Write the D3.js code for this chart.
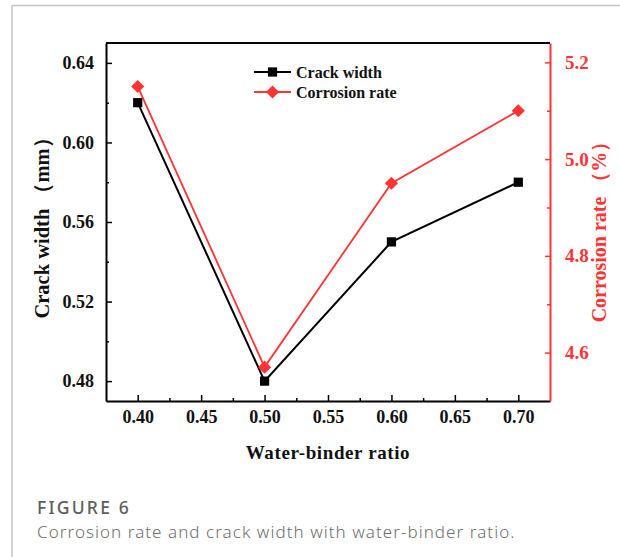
<!DOCTYPE html>
<html>
  <head>
    <script type="text/javascript" src="https://cdn.jsdelivr.net/npm/d3@7/dist/d3.min.js"></script>
    <style>
      body { margin: 0; background: #fff; }
      .tick text { font-family: "Liberation Serif", serif; font-weight: bold; }
    </style>
  </head>
  <body>
  <script type='text/javascript'>

    // data
    var ratio = [0.40, 0.50, 0.60, 0.70];
    var crackWidth = [0.62, 0.48, 0.55, 0.58];
    var corrosionRate = [5.15, 4.57, 4.95, 5.10];

    var xTicks = [0.40, 0.45, 0.50, 0.55, 0.60, 0.65, 0.70];
    var xMinor = [0.425, 0.475, 0.525, 0.575, 0.625, 0.675];
    var yLeftTicks = [0.48, 0.52, 0.56, 0.60, 0.64];
    var yLeftMinor = [0.50, 0.54, 0.58, 0.62];
    var yRightTicks = [4.6, 4.8, 5.0, 5.2];
    var yRightMinor = [4.7, 4.9, 5.1];

    var RED = "#ff3333";
    var SERIF = "'Liberation Serif', 'Times New Roman', serif";
    var SANS = "'Noto Sans', 'Open Sans', sans-serif";

    var svg = d3.select("body").append("svg")
        .attr("width", 620)
        .attr("height", 557);

    // card border (top + left)
    svg.append("line").attr("x1", 12).attr("y1", 5.5).attr("x2", 620).attr("y2", 5.5)
        .attr("stroke", "#c4c4c4").attr("stroke-width", 1.5);
    svg.append("line").attr("x1", 12).attr("y1", 5.5).attr("x2", 12).attr("y2", 557)
        .attr("stroke", "#c4c4c4").attr("stroke-width", 1.5);

    var L = 106, R = 550, T = 43, B = 401;

    var x = d3.scaleLinear().domain([0.375, 0.725]).range([L, R]);
    var yL = d3.scaleLinear().domain([0.47, 0.65]).range([B, T]);
    var yR = d3.scaleLinear().domain([4.5, 5.24]).range([B, T]);

    // axes
    var xAxis = svg.append("g").attr("transform", "translate(0," + B + ")")
        .call(d3.axisBottom(x).tickValues(xTicks).tickFormat(d3.format(".2f"))
              .tickSizeInner(-6).tickSizeOuter(0).tickPadding(9));
    svg.append("g").attr("transform", "translate(0," + B + ")")
        .call(d3.axisBottom(x).tickValues(xMinor).tickFormat("").tickSizeInner(-3).tickSizeOuter(0))
        .select(".domain").remove();

    var yAxisL = svg.append("g").attr("transform", "translate(" + L + ",0)")
        .call(d3.axisLeft(yL).tickValues(yLeftTicks).tickFormat(d3.format(".2f"))
              .tickSizeInner(-6).tickSizeOuter(0).tickPadding(12));
    svg.append("g").attr("transform", "translate(" + L + ",0)")
        .call(d3.axisLeft(yL).tickValues(yLeftMinor).tickFormat("").tickSizeInner(-3).tickSizeOuter(0))
        .select(".domain").remove();

    var yAxisR = svg.append("g").attr("transform", "translate(" + R + ",0)")
        .call(d3.axisRight(yR).tickValues(yRightTicks).tickFormat(d3.format(".1f"))
              .tickSizeInner(-5).tickSizeOuter(0).tickPadding(15));
    svg.append("g").attr("transform", "translate(" + R + ",0)")
        .call(d3.axisRight(yR).tickValues(yRightMinor).tickFormat("").tickSizeInner(-3).tickSizeOuter(0))
        .attr("color", RED)
        .select(".domain").remove();

    xAxis.selectAll("text").attr("font-size", 18).attr("fill", "#111");
    yAxisL.selectAll("text").attr("font-size", 18).attr("fill", "#111");
    yAxisR.attr("color", RED);
    yAxisR.selectAll("text").attr("font-size", 19).attr("fill", RED);
    svg.selectAll(".domain").attr("stroke-width", 2);
    svg.selectAll(".tick line").attr("stroke-width", 1.5);

    // top frame line
    svg.append("line").attr("x1", L).attr("y1", T).attr("x2", R).attr("y2", T)
        .attr("stroke", "#000").attr("stroke-width", 2);

    // series
    var pts = ratio.map(function(r, i){ return {r: r, c: crackWidth[i], k: corrosionRate[i]}; });

    var lineC = d3.line().x(function(d){ return x(d.r); }).y(function(d){ return yL(d.c); });
    var lineK = d3.line().x(function(d){ return x(d.r); }).y(function(d){ return yR(d.k); });

    svg.append("path").datum(pts).attr("d", lineC)
        .attr("fill", "none").attr("stroke", "#000").attr("stroke-width", 2);
    svg.append("path").datum(pts).attr("d", lineK)
        .attr("fill", "none").attr("stroke", RED).attr("stroke-width", 1.8);

    var square = d3.symbol().type(d3.symbolSquare).size(85);
    var diamond = d3.symbol().type(d3.symbolDiamond2).size(110);

    svg.selectAll(".mc").data(pts).enter().append("path")
        .attr("d", square)
        .attr("transform", function(d){ return "translate(" + x(d.r) + "," + yL(d.c) + ")"; })
        .attr("fill", "#000");
    svg.selectAll(".mk").data(pts).enter().append("path")
        .attr("d", diamond)
        .attr("transform", function(d){ return "translate(" + x(d.r) + "," + yR(d.k) + ")"; })
        .attr("fill", RED);

    // legend
    var legend = [
      {label: "Crack width", color: "#000", sym: square, y: 72},
      {label: "Corrosion rate", color: RED, sym: diamond, y: 92}
    ];
    legend.forEach(function(l){
      svg.append("line").attr("x1", 254).attr("x2", 291).attr("y1", l.y).attr("y2", l.y)
          .attr("stroke", l.color).attr("stroke-width", 2);
      svg.append("path").attr("d", l.sym)
          .attr("transform", "translate(272.5," + l.y + ")")
          .attr("fill", l.color);
      svg.append("text").attr("x", 296).attr("y", l.y + 5.5)
          .attr("font-family", SERIF).attr("font-weight", "bold").attr("font-size", 16)
          .attr("fill", "#111").text(l.label);
    });

    // axis titles
    svg.append("text").attr("x", 328).attr("y", 459)
        .attr("text-anchor", "middle").attr("font-family", SERIF).attr("font-weight", "bold")
        .attr("font-size", 19).attr("letter-spacing", 0.6).attr("fill", "#111")
        .text("Water-binder ratio");

    svg.append("text").attr("transform", "translate(49,223) rotate(-90)")
        .attr("text-anchor", "middle").attr("font-family", SERIF).attr("font-weight", "bold")
        .attr("font-size", 20.5).attr("fill", "#111")
        .text("Crack width （mm）");

    svg.append("text").attr("transform", "translate(606,227) rotate(-90)")
        .attr("text-anchor", "middle").attr("font-family", SERIF).attr("font-weight", "bold")
        .attr("font-size", 20).attr("fill", RED)
        .text("Corrosion rate （%）");

    // caption
    svg.append("text").attr("x", 37).attr("y", 514)
        .attr("font-family", SANS).attr("font-weight", 500)
        .attr("font-size", 17.5).attr("letter-spacing", 2.2).attr("fill", "#5e5e5e").text("FIGURE 6");
    svg.append("text").attr("x", 37).attr("y", 538)
        .attr("font-family", SANS).attr("font-weight", 300)
        .attr("font-size", 17).attr("letter-spacing", 1.05).attr("fill", "#6e6e6e")
        .text("Corrosion rate and crack width with water-binder ratio.");

  </script>
  </body>
</html>
